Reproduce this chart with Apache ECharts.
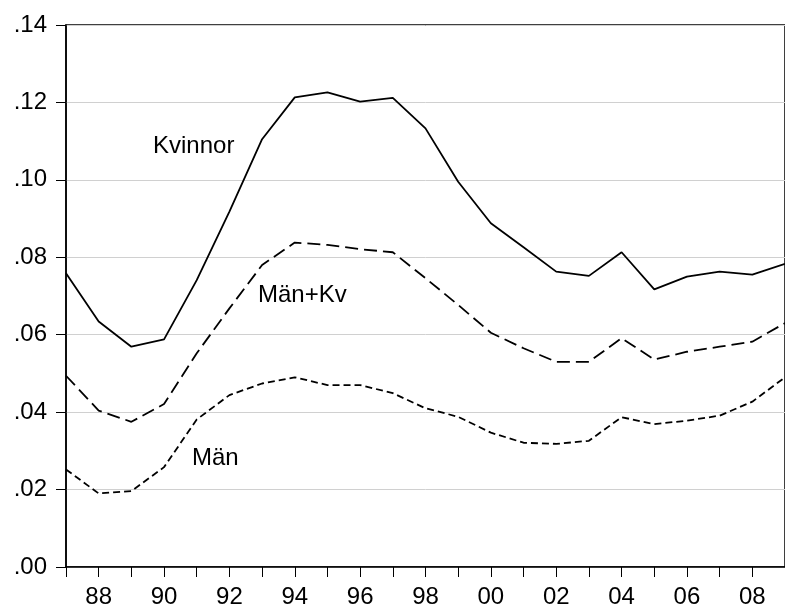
<!DOCTYPE html>
<html>
<head>
<meta charset="utf-8">
<script src="https://cdn.jsdelivr.net/npm/echarts@6/dist/echarts.min.js"></script>
<style>
  html, body { margin: 0; padding: 0; background: #fff; }
  #main { width: 785px; height: 610px; }
</style>
</head>
<body>
<div id="main"></div>
<script>
var years = ['1987', '1988', '1989', '1990', '1991', '1992', '1993', '1994', '1995', '1996', '1997', '1998',
             '1999', '2000', '2001', '2002', '2003', '2004', '2005', '2006', '2007', '2008', '2009'];
var kvinnor = [0.0759, 0.0634, 0.0569, 0.0588, 0.0741, 0.0918, 0.1105, 0.1213, 0.1226, 0.1202, 0.1212, 0.1133,
               0.0995, 0.0888, 0.0826, 0.0763, 0.0752, 0.0813, 0.0717, 0.0750, 0.0763, 0.0755, 0.0783];
var manKv = [0.0494, 0.0404, 0.0375, 0.0421, 0.0552, 0.0668, 0.0780, 0.0838, 0.0832, 0.0821, 0.0813, 0.0746,
             0.0677, 0.0605, 0.0565, 0.0530, 0.0530, 0.0591, 0.0536, 0.0556, 0.0569, 0.0582, 0.0630];
var man = [0.0252, 0.0190, 0.0196, 0.0258, 0.0381, 0.0444, 0.0474, 0.0490, 0.0470, 0.0470, 0.0449, 0.0410,
           0.0388, 0.0347, 0.0321, 0.0318, 0.0326, 0.0387, 0.0369, 0.0378, 0.0391, 0.0427, 0.0490];
var seriesNames = ['Kvinnor', 'Män+Kv', 'Män'];

var font = 'Liberation Sans, Arial, sans-serif';
var myChart = echarts.init(document.getElementById('main'));
option = {
    backgroundColor: '#fff',
    animation: false,
    grid: {
        left: 66, top: 25, width: 723, height: 542,
        show: true, borderColor: '#000', borderWidth: 1.5
    },
    xAxis: {
        type: 'category',
        data: years,
        boundaryGap: false,
        axisLine: { lineStyle: { color: '#000', width: 1.5 } },
        axisTick: { interval: 0, length: 10, lineStyle: { color: '#000' } },
        axisLabel: {
            interval: function (idx) { return idx % 2 === 1; },
            formatter: function (v) { return v.slice(2); },
            color: '#000', fontSize: 24, fontFamily: font, margin: 18
        },
        splitLine: { show: false }
    },
    yAxis: {
        type: 'value',
        min: 0, max: 0.14, interval: 0.02,
        axisLine: { show: true, lineStyle: { color: '#000', width: 1.5 } },
        axisTick: { show: true, length: 10, lineStyle: { color: '#000' } },
        axisLabel: {
            formatter: function (v) { return v.toFixed(2).replace('0.', '.'); },
            color: '#000', fontSize: 24, fontFamily: font, margin: 19
        },
        splitLine: { lineStyle: { color: '#d0d0d0', width: 1 } }
    },
    graphic: [
        { type: 'text', left: 153, top: 134, style: { text: seriesNames[0], fontSize: 24, fontFamily: font, fill: '#000' } },
        { type: 'text', left: 258, top: 283, style: { text: seriesNames[1], fontSize: 24, fontFamily: font, fill: '#000' } },
        { type: 'text', left: 192, top: 446, style: { text: seriesNames[2], fontSize: 24, fontFamily: font, fill: '#000' } }
    ],
    series: [
        {
            name: seriesNames[0], type: 'line', data: kvinnor, symbol: 'none',
            lineStyle: { color: '#000', width: 1.8 }
        },
        {
            name: seriesNames[1], type: 'line', data: manKv, symbol: 'none',
            lineStyle: { color: '#000', width: 1.8, type: [13, 6] }
        },
        {
            name: seriesNames[2], type: 'line', data: man, symbol: 'none',
            lineStyle: { color: '#000', width: 1.8, type: [7, 4] }
        }
    ]
};
myChart.setOption(option);
</script>
</body>
</html>
